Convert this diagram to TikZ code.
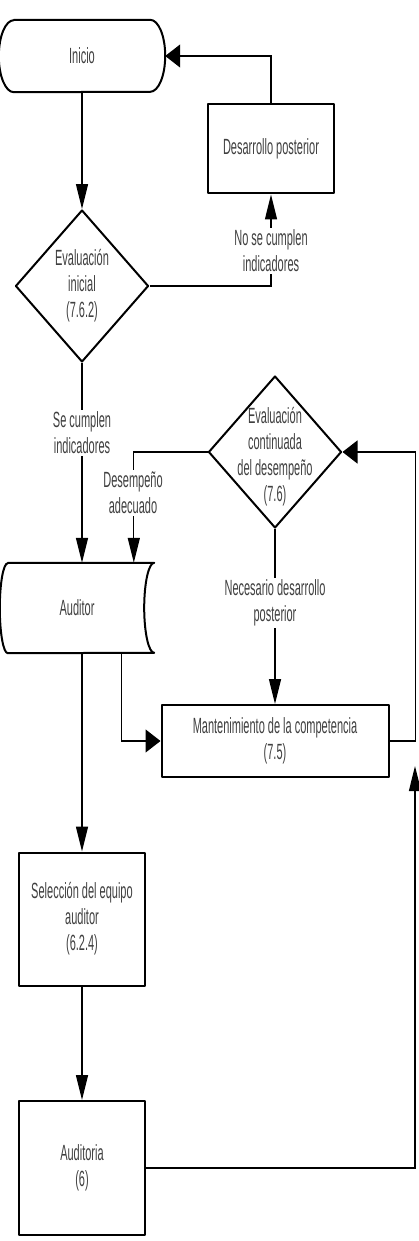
\documentclass[tikz,border=0pt]{standalone}
\usepackage{fontspec}
\setmainfont[FakeStretch=0.5]{Liberation Sans}
\usetikzlibrary{arrows.meta,shapes.geometric}

\begin{document}
\begin{tikzpicture}[x=1pt,y=-1pt,
  every node/.style={font=\fontsize{22}{26}\selectfont, text=black!75, align=center},
  outl/.style={draw=black, line width=2pt, line join=round},
  box/.style={outl, rectangle, minimum width=126pt, inner sep=0pt},
  plain/.style={rectangle, inner sep=0pt},
  decision/.style={outl, diamond, minimum width=133pt, minimum height=152pt, inner sep=0pt},
  conn/.style={draw=black, line width=1.3pt},
  varrow/.style={-{Triangle[length=25pt,width=12pt]}},
  harrow/.style={-{Triangle[length=15pt,width=23pt]}},
  lbl/.style={fill=white, inner sep=2pt}]
  \useasboundingbox (0,0) rectangle (419,1241);

  \node[plain, minimum width=166pt, minimum height=72pt] (ini) at (82,56) {Inicio};
  \draw[outl] ([xshift=15pt]ini.north west) -- ([xshift=-15pt]ini.north east)
    arc[start angle=90, end angle=-90, x radius=15pt, y radius=36pt]
    -- ([xshift=15pt]ini.south west)
    arc[start angle=270, end angle=90, x radius=15pt, y radius=36pt] -- cycle;
  \node[box, minimum height=89pt] (des) at (271,149) {Desarrollo posterior};
  \node[decision] (ei) at (82,286) {};
  \node (eit) at (ei) {Evaluación\\inicial\\(7.6.2)};
  \node[decision] (ec) at (275,452) {};
  \node (ect) at ([yshift=-5pt]ec.center) {Evaluación\\continuada\\del desempeño\\(7.6)};
  \node[plain, minimum width=154pt, minimum height=90pt] (aud) at (77,608) {Auditor};
  \draw[outl] ([xshift=8pt]aud.north west) -- (aud.north east)
    arc[start angle=90, end angle=270, x radius=10pt, y radius=45pt]
    -- ([xshift=8pt]aud.south west)
    arc[start angle=270, end angle=90, x radius=8pt, y radius=45pt] -- cycle;
  \node[box, minimum width=227pt, minimum height=72pt] (mant) at (275,741) {Mantenimiento de la competencia\\(7.5)};
  \node[box, minimum height=133pt] (sel) at (82,919) {Selección del equipo\\auditor\\(6.2.4)};
  \node[box, minimum height=134pt] (adt) at (82,1168) {Auditoria\\(6)};
  \coordinate (jn) at (415,766);

  \draw[conn, varrow] (ini) -- (ei);
  \draw[conn, varrow] (ei.east) -| (des.south);
  \node[lbl] (l1) at (271,251) {No se cumplen\\indicadores};
  \draw[conn, harrow] (des.north) |- (ini.east);
  \draw[conn, varrow] (ei.south) -- (ei.south |- aud.north);
  \node[lbl] (l2) at (82,433) {Se cumplen\\indicadores};
  \draw[conn, varrow] (ec.west) -| ([xshift=134pt]aud.north west);
  \node[lbl] (l3) at (133,493) {Desempeño\\adecuado};
  \draw[conn, varrow] (ec.south) -- (mant.north);
  \node[lbl] (l4) at (275,603) {Necesario desarrollo\\posterior};
  \draw[conn, harrow] ([xshift=122pt]aud.south west) |- (mant.west);
  \draw[conn, harrow] (mant.east) -- ++(26,0) |- (ec.east);
  \draw[conn, varrow] (aud.south -| sel.north) -- (sel.north);
  \draw[conn, varrow] (sel) -- (adt);
  \draw[conn, varrow] (adt.east) -| (jn);
\end{tikzpicture}
\end{document}
